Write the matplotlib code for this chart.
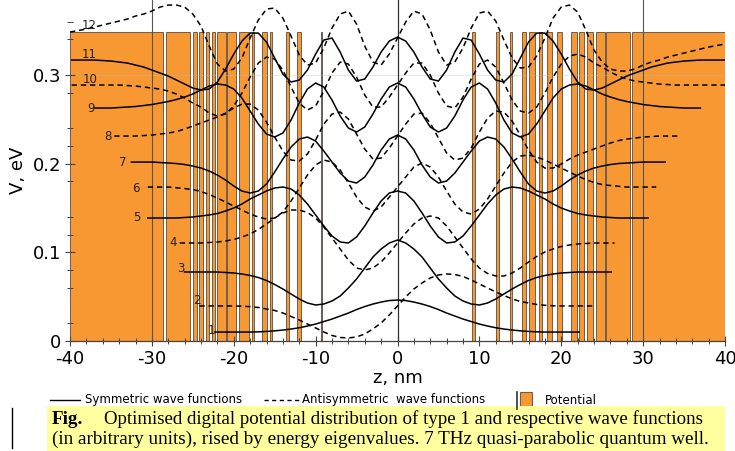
import matplotlib
matplotlib.use('Agg')
import matplotlib.pyplot as plt
from matplotlib.lines import Line2D
from matplotlib.patches import Rectangle
from matplotlib.ticker import MultipleLocator, FixedLocator

# ---------------- data ----------------
V0 = 0.348  # barrier height, eV
bar_start = [-40.0, -28.3, -25.0, -24.2, -23.4, -22.7, -22.1, -20.8, -19.3, -17.8, -16.6, -15.6,
             -13.6, -12.3, -9.4, 9.16, 11.97, 13.68, 15.26, 16.1, 17.3, 18.3, 19.5, 21.2, 22.2,
             23.2, 24.3, 25.5, 28.6]
bar_end = [-28.7, -25.3, -24.5, -23.7, -23.0, -22.3, -21.0, -19.7, -18.1, -17.5, -16.0, -15.3,
           -13.3, -11.8, -9.2, 9.52, 12.45, 14.04, 15.75, 16.85, 17.7, 18.9, 20.1, 21.9, 22.8,
           23.9, 25.3, 28.4, 40.0]

energies = [0.0101, 0.0395, 0.0778, 0.1105, 0.1387, 0.1736, 0.2018, 0.2311, 0.2627, 0.2886,
            0.3168, 0.3416]
tail_start = [-22.3, -24.2, -26.0, -26.6, -30.5, -30.5, -32.5, -34.6, -37.0, -39.8, -39.8, -40.0]
tail_end = [22.2, 23.8, 26.1, 26.5, 30.6, 31.6, 32.7, 34.6, 37.0, 40.0, 40.0, 40.0]
label_z = [-22.7, -24.5, -26.4, -27.4, -31.9, -31.9, -33.6, -35.4, -37.4, -37.6, -37.6, -37.6]
label_v = [0.0113, 0.0462, 0.0823, 0.1116, 0.1387, 0.1725, 0.2018, 0.2311, 0.2627, 0.2954,
           0.3236, 0.3563]

# wave functions (arbitrary units), sampled at integer z from -K to K nm
psi1 = [0, 0.2, 0.6, 1.2, 2, 3, 4.3, 6, 8, 10.5, 13, 16, 19, 22.5, 25.5, 28, 30, 31.5,
        32, 31.5, 30, 28, 25.5, 22.5, 19, 16, 13, 10.5, 8, 6, 4.3, 3, 2, 1.2, 0.6, 0.2, 0]
psi2 = [0, -0.2, -0.7, -1.5, -3, -4.5, -7, -10.5, -14, -18, -22, -26, -29.5, -31.5, -32, -31,
        -28, -23, -17, -9,
        0, 9, 17, 23, 28, 31, 32, 31.5, 29.5, 26, 22, 18, 14, 10.5, 7, 4.5, 3, 1.5, 0.7, 0.2, 0]
psi3 = [0, -0.5, -1, -2, -3.5, -5.5, -8.5, -12.5, -17, -22, -27, -31, -33, -32, -29, -24, -16,
        -7, 4, 15, 23, 29,
        32, 29, 23, 15, 4, -7, -16, -24, -29, -32, -33, -31, -27, -22, -17, -12.5, -8.5, -5.5,
        -3.5, -2, -1, -0.5, 0]
psi4 = [0, 0.5, 1, 2, 3.5, 6, 9, 13.5, 19, 25, 30, 33, 33, 30.5, 25, 16, 5, -6, -17, -25, -27,
        -25, -19, -10,
        0, 10, 19, 25, 27, 25, 17, 6, -5, -16, -25, -30.5, -33, -33, -30, -25, -19, -13.5, -9,
        -6, -3.5, -2, -1, -0.5, 0]
psi5 = [0, 0.5, 1, 2, 3, 4.5, 7, 10, 14, 19, 23, 27, 30, 31, 29, 23, 14, 3, -8, -18, -24, -25,
        -19, -8, 5, 17, 25,
        27, 25, 17, 5, -8, -19, -25, -24, -18, -8, 3, 14, 23, 29, 31, 30, 27, 23, 19, 14, 10, 7,
        4.5, 3, 2, 1, 0.5, 0]
psi6 = [0, -0.7, -1.5, -2.5, -4.5, -7.5, -11, -15, -19, -23, -27, -30, -32, -31, -25, -14, -1,
        12, 22, 27, 25, 17, 4, -10, -20, -24, -20, -10,
        0, 10, 20, 24, 20, 10, -4, -17, -25, -27, -22, -12, 1, 14, 25, 31, 32, 30, 27, 23, 19,
        15, 11, 7.5, 4.5, 2.5, 1.5, 0.7, 0]
psi7 = [0, -0.5, -1, -1.5, -2.5, -4, -6, -9, -13, -18, -24, -29, -31, -29, -22, -10, 3, 15, 23,
        25, 21, 11, 0, -11, -19, -21, -15, -3, 12, 23,
        27, 23, 12, -3, -15, -21, -19, -11, 0, 11, 21, 25, 23, 15, 3, -10, -22, -29, -31, -29,
        -24, -18, -13, -9, -6, -4, -2.5, -1.5, -1, -0.5, 0]
psi8 = [0, 0.5, 1, 2, 3, 4.5, 7, 10, 13, 16, 19, 23, 28, 32, 32, 26, 14, -1, -15, -24, -25, -18,
        -4, 12, 22, 24, 17, 2, -13, -23, -22, -12,
        0, 12, 22, 23, 13, -2, -17, -24, -22, -12, 4, 18, 25, 24, 15, 1, -14, -26, -32, -32, -28,
        -23, -19, -16, -13, -10, -7, -4.5, -3, -2, -1, -0.5, 0]
psi9 = [0, 0.5, 1, 1.5, 2.5, 3.5, 5, 6.5, 8.5, 11, 14, 18, 22, 24, 23, 19, 10, -3, -16, -26, -29,
        -25, -12, 5, 19, 25, 21, 8, -8, -20, -24, -19, -6, 9, 21,
        25, 21, 9, -6, -19, -24, -20, -8, 8, 21, 25, 19, 5, -12, -25, -29, -26, -16, -3, 10, 19,
        23, 24, 22, 18, 14, 11, 8.5, 6.5, 5, 3.5, 2.5, 1.5, 1, 0.5, 0]
psi10 = [0, -0.5, -1, -2, -3, -4, -6, -9, -13, -18, -22, -28, -31, -29, -21, -8, 8, 22, 28, 26,
         15, -2, -18, -25, -21, -6, 12, 23, 21, 8, -10, -22, -22, -12,
         0, 12, 22, 22, 10, -8, -21, -23, -12, 6, 21, 25, 18, 2, -15, -26, -28, -22, -8, 8, 21,
         29, 31, 28, 22, 18, 13, 9, 6, 4, 3, 2, 1, 0.5, 0]
psi11 = [0, -0.5, -1, -2, -3, -5, -7, -10, -13, -16, -20, -24, -28, -30, -29, -22, -9, 6, 19, 27,
         27, 18, 2, -14, -22, -20, -10, 6, 20, 22, 8, -10, -21, -19, -7, 8, 19,
         23, 19, 8, -7, -19, -21, -10, 8, 22, 20, 6, -10, -20, -22, -14, 2, 18, 27, 27, 19, 6, -9,
         -22, -29, -30, -28, -24, -20, -16, -13, -10, -7, -5, -3, -2, -1, -0.5, 0]
psi12 = [6, 7.5, 9, 11, 13, 15, 17, 19, 22, 24, 27, 31, 33, 33, 31, 24, 12, -8, -26, -33, -31,
         -20, 0, 18, 29, 30, 20, 2, -17, -27, -25, -10, 10, 24, 27, 14, -8, -24, -27, -16,
         0, 16, 27, 24, 8, -14, -27, -24, -10, 10, 25, 27, 17, -2, -20, -30, -29, -18, 0, 20, 31,
         33, 26, 8, -12, -24, -31, -33, -33, -31, -27, -24, -22, -19, -17, -15, -13, -11, -9,
         -7.5, -6]
psis = [psi1, psi2, psi3, psi4, psi5, psi6, psi7, psi8, psi9, psi10, psi11, psi12]
AU = 1.0 / 887.0  # eV per arbitrary unit

x_ticks = [-40, -30, -20, -10, 0, 10, 20, 30, 40]
y_ticks = [0, 0.1, 0.2, 0.3]
y_minor = [0.02, 0.06, 0.08, 0.12, 0.14, 0.18, 0.22, 0.24, 0.28, 0.34, 0.36]

ORANGE = '#F79832'
EDGE = '#6e5e50'

# ---------------- figure ----------------
fig = plt.figure(figsize=(7.35, 4.51), dpi=100)
ax = fig.add_axes([70 / 735, 110 / 451, 655 / 735, 341 / 451])

widths = [e - s for s, e in zip(bar_start, bar_end)]
ax.bar(bar_start, [V0] * len(bar_start), width=widths, align='edge', color=ORANGE,
       edgecolor=EDGE, linewidth=0.7, zorder=1)

for xv in (-30, 30):
    ax.axvline(xv, color='#555555', lw=0.8, zorder=2)
ax.axvline(0, color='#333333', lw=0.9, zorder=2)
ax.axhline(0.3, color='#bbbbbb', lw=0.5, alpha=0.5, zorder=1.5)

for i, psi in enumerate(psis):
    K = (len(psi) - 1) // 2
    zs = list(range(-K, K + 1))
    vs = [energies[i] + p * AU for p in psi]
    if tail_start[i] < zs[0]:
        zs = [tail_start[i]] + zs
        vs = [energies[i]] + vs
    if tail_end[i] > zs[-1]:
        zs = zs + [tail_end[i]]
        vs = vs + [energies[i]]
    ls = '-' if i % 2 == 0 else (0, (3.5, 2.5))
    ax.plot(zs, vs, color='black', lw=1.1, linestyle=ls, zorder=3)
    ax.text(label_z[i], label_v[i], str(i + 1), fontsize=8.5, ha='center', va='center',
            color='#222222', zorder=4)

ax.set_xlim(-40, 40)
ax.set_ylim(0, 0.3845)
ax.set_xticks(x_ticks)
ax.set_yticks(y_ticks)
ax.set_yticklabels(['0', '0.1', '0.2', '0.3'])
ax.set_xticklabels([str(t) for t in x_ticks])
ax.xaxis.set_minor_locator(MultipleLocator(2))
ax.yaxis.set_minor_locator(FixedLocator(y_minor))
ax.tick_params(axis='both', which='major', direction='inout', length=7, width=0.8,
               color='#444444', labelsize=13, pad=3)
ax.tick_params(axis='both', which='minor', direction='inout', length=4, width=0.7,
               color='#444444')
for s in ('top', 'right', 'left'):
    ax.spines[s].set_visible(False)
ax.spines['bottom'].set_color('#444444')
ax.spines['bottom'].set_linewidth(0.9)
ax.set_xlabel('z, nm', fontsize=13, labelpad=1)
ax.set_ylabel('V, eV', fontsize=13, labelpad=4)

# ---------------- legend (figure pixel coordinates) ----------------
def fx(px):
    return px / 735.0

def fy(py):
    return (451.0 - py) / 451.0

fig.add_artist(Line2D([fx(50), fx(80)], [fy(400), fy(400)], color='black', lw=1.0))
fig.text(fx(85), fy(400), 'Symmetric wave functions', fontsize=8.5, va='center', ha='left')
fig.add_artist(Line2D([fx(264), fx(299)], [fy(400), fy(400)], color='black', lw=1.0,
                      linestyle=(0, (3, 2.5))))
fig.text(fx(302), fy(400), 'Antisymmetric  wave functions', fontsize=8.5, va='center',
         ha='left')
fig.add_artist(Rectangle((fx(520), fy(409)), fx(12), 17 / 451, facecolor=ORANGE,
                         edgecolor=EDGE, lw=0.8))
fig.add_artist(Line2D([fx(517), fx(517)], [fy(409), fy(392)], color='#333333', lw=1.2))
fig.text(fx(545), fy(400), 'Potential', fontsize=8.5, va='center', ha='left')

# ---------------- caption ----------------
fig.add_artist(Rectangle((fx(47), 0), fx(678), 45 / 451, facecolor='#FFFFA0', edgecolor='none'))
fig.add_artist(Line2D([fx(12), fx(12)], [fy(448), fy(408)], color='black', lw=1.0))
fig.text(fx(52), fy(419), 'Fig.', fontsize=13.8, fontweight='bold', family='Liberation Serif',
         va='center', ha='left')
fig.text(fx(104), fy(419),
         'Optimised digital potential distribution of type 1 and respective wave functions',
         fontsize=13.6, family='Liberation Serif', va='center', ha='left')
fig.text(fx(52), fy(439),
         '(in arbitrary units), rised by energy eigenvalues. 7 THz quasi-parabolic quantum well.',
         fontsize=13.8, family='Liberation Serif', va='center', ha='left')

fig.savefig('out.png', dpi=100)
